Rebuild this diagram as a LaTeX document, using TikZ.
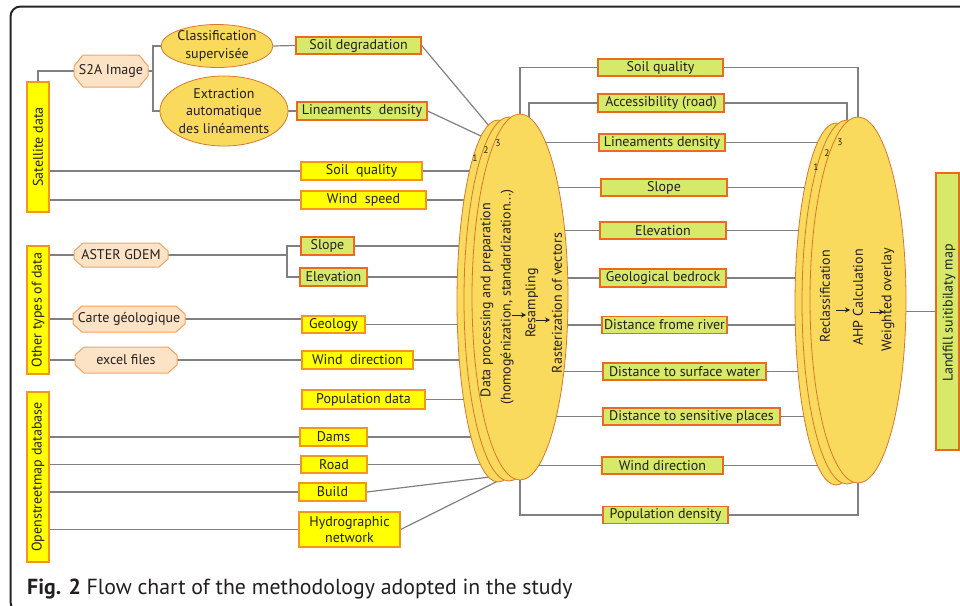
\documentclass[tikz,border=0pt]{standalone}
\usepackage{fontspec}
\setmainfont{PT Sans}
\usetikzlibrary{shapes.geometric,arrows.meta,backgrounds}
\definecolor{yfill}{HTML}{FFFF00}
\definecolor{yline}{HTML}{F7941D}
\definecolor{gfill}{HTML}{D7E968}
\definecolor{gline}{HTML}{EA6A22}
\definecolor{efill}{HTML}{F9DA5C}
\definecolor{eline}{HTML}{D9782D}
\definecolor{ofill}{HTML}{FDE3C6}
\definecolor{oline}{HTML}{F4A261}
\definecolor{cgray}{HTML}{808080}
\definecolor{tcol}{HTML}{231F20}
\newcommand{\octnode}[7]{%
  \path[draw=oline, fill=ofill, line width=1pt]
    ({#2-#4/2},{#3-#5/2+#7}) -- ({#2-#4/2+9},{#3-#5/2}) -- ({#2+#4/2-9},{#3-#5/2}) -- ({#2+#4/2},{#3-#5/2+#7})
    -- ({#2+#4/2},{#3+#5/2-#7}) -- ({#2+#4/2-9},{#3+#5/2}) -- ({#2-#4/2+9},{#3+#5/2}) -- ({#2-#4/2},{#3+#5/2-#7}) -- cycle;
  \node[lbl, inner sep=0pt, minimum width=#4pt, minimum height=#5pt] (#1) at (#2,#3) {#6};}
\begin{document}
\begin{tikzpicture}[x=1pt,y=-1pt,
  lbl/.style={font=\fontsize{14}{17.5}\selectfont, text=tcol},
  ybox/.style={lbl, draw=yline, fill=yfill, line width=1.2pt, inner sep=0pt, align=center},
  gbox/.style={lbl, draw=gline, fill=gfill, line width=1.2pt, inner sep=0pt, align=center},
  ell/.style={ellipse, draw=eline, fill=efill, line width=0.8pt, inner sep=0pt},
  conn/.style={draw=cgray, line width=1.2pt},
  num/.style={font=\fontsize{9.5}{10}\selectfont, text=tcol, inner sep=0pt},
  arr/.style={-{Stealth[length=5pt,width=5pt]}, line width=0.8pt, draw=tcol}]
\useasboundingbox (0,0) rectangle (960,605);

% ---------- left bars ----------
\node[ybox, minimum width=22pt, minimum height=130pt] (satbar) at (38,147) {};
\node[lbl, rotate=90] (sattxt) at (satbar.center) {Satellite data};
\node[ybox, minimum width=22pt, minimum height=128pt] (otherbar) at (38,310) {};
\node[lbl, rotate=90] (othertxt) at (otherbar.center) {Other types of data};
\node[ybox, minimum width=22pt, minimum height=170pt] (osmbar) at (38,477) {};
\node[lbl, rotate=90] (osmtxt) at (osmbar.center) {Openstreetmap database};

% ---------- octagons ----------
\octnode{s2a}{111}{71}{74}{32}{S2A Image}{11}
\octnode{aster}{121}{255}{94}{24}{ASTER GDEM}{8}
\octnode{carte}{129}{319}{112}{26}{Carte géologique}{8}
\octnode{excel}{126}{360}{102}{26}{excel files}{8}

% ---------- small ellipses ----------
\node[ell, lbl, minimum width=111pt, minimum height=43pt, align=center] (classif) at (217,46) {Classification\\supervisée};
\node[ell, lbl, minimum width=125pt, minimum height=70pt, align=center] (extr) at (224,111) {Extraction\\automatique\\des linéaments};

% ---------- left boxes ----------
\node[gbox, minimum width=125pt, minimum height=17pt] (soildeg) at (358.5,45.5) {Soil degradation};
\node[gbox, minimum width=130pt, minimum height=18pt] (linden) at (362,111) {Lineaments\ \ density};
\node[ybox, minimum width=121pt, minimum height=18pt] (soilq) at (361.5,171) {Soil\ \ quality};
\node[ybox, minimum width=125pt, minimum height=18pt] (winds) at (363.5,200) {Wind\ \ speed};
\node[gbox, minimum width=53pt, minimum height=18pt] (slope) at (327.5,246) {Slope};
\node[gbox, minimum width=67pt, minimum height=18pt] (elev) at (333.5,277) {Elevation};
\node[ybox, minimum width=63pt, minimum height=17pt] (geology) at (333.5,324.5) {Geology};
\node[ybox, minimum width=111pt, minimum height=18pt] (windd) at (357.5,360) {Wind\ \ direction};
\node[ybox, minimum width=123pt, minimum height=19pt] (popdata) at (363.5,399.5) {Population data};
\node[ybox, minimum width=67pt, minimum height=18pt] (dams) at (333.5,437) {Dams};
\node[ybox, minimum width=66pt, minimum height=17pt] (road) at (334,464.5) {Road};
\node[ybox, minimum width=67pt, minimum height=18pt] (build) at (332.5,492) {Build};
\node[ybox, minimum width=101pt, minimum height=35pt, font=\fontsize{14}{16.5}\selectfont] (hydro) at (349.5,529.5) {Hydrographic\\network};

% ---------- ellipse stack 1 ----------
\node[ell, minimum width=82pt, minimum height=362pt] (E1c) at (498,301) {};
\node[ell, minimum width=90pt, minimum height=364pt] (E1b) at (509,299) {};
\node[ell, minimum width=96pt, minimum height=366pt] (E1a) at (520,297) {};
\node[num] (n11) at (475,158) {1};
\node[num] (n12) at (486,150) {2};
\node[num] (n13) at (498,143) {3};
\node[lbl, rotate=90] (d1) at (487,300) {Data processing and preparation};
\node[lbl, rotate=90] (d2) at (507,297) {(homogénization, standardization...)};
\node[lbl, rotate=90] (d3) at (532,303) {Resampling};
\node[lbl, rotate=90] (d4) at (557,303) {Rasterization of vectors};
\coordinate (a1s) at (512,315); \coordinate (a1e) at (526,315);
\coordinate (a2s) at (536,320); \coordinate (a2e) at (550,320);
\draw[arr] (a1s) -- (a1e);
\draw[arr] (a2s) -- (a2e);

% ---------- right column boxes ----------
\node[gbox, minimum width=125pt, minimum height=17pt] (soilq2) at (660.5,67.5) {Soil quality};
\node[gbox, minimum width=126pt, minimum height=18pt] (acc) at (661,103) {Accessibility (road)};
\node[gbox, minimum width=126pt, minimum height=17pt] (lin2) at (662,142.5) {Lineaments density};
\node[gbox, minimum width=126pt, minimum height=17pt] (slope2) at (664,187.5) {Slope};
\node[gbox, minimum width=126pt, minimum height=17pt] (elev2) at (663,230.5) {Elevation};
\node[gbox, minimum width=126pt, minimum height=18pt] (geob) at (663,278) {Geological bedrock};
\node[gbox, minimum width=125pt, minimum height=17pt] (driver) at (664.5,325) {Distance frome river};
\node[gbox, minimum width=163pt, minimum height=17pt] (dsurf) at (684.5,371.5) {Distance to surface water};
\node[gbox, minimum width=177pt, minimum height=17pt] (dsens) at (691.5,416.5) {Distance to sensitive places};
\node[gbox, minimum width=121pt, minimum height=17pt] (windd2) at (662.5,465.5) {Wind direction};
\node[gbox, minimum width=125pt, minimum height=17pt] (popd) at (665.5,515) {Population density};

% ---------- ellipse stack 2 ----------
\node[ell, minimum width=82pt, minimum height=362pt] (E2c) at (836,304) {};
\node[ell, minimum width=90pt, minimum height=364pt] (E2b) at (847,302) {};
\node[ell, minimum width=96pt, minimum height=366pt] (E2a) at (858,300) {};
\node[num] (n21) at (816,167) {1};
\node[num] (n22) at (827,153) {2};
\node[num] (n23) at (840,142) {3};
\node[lbl, rotate=90, anchor=east, inner sep=0pt] (r1) at (825,250) {Reclassification};
\node[lbl, rotate=90, anchor=east, inner sep=0pt] (r2) at (858,249) {AHP Calculation};
\node[lbl, rotate=90, anchor=east, inner sep=0pt] (r3) at (888,248) {Weighted overlay};
\coordinate (b1s) at (836,310); \coordinate (b1e) at (850,310);
\coordinate (b2s) at (870,312); \coordinate (b2e) at (884,312);
\draw[arr] (b1s) -- (b1e);
\draw[arr] (b2s) -- (b2e);

% ---------- final box ----------
\node[gbox, minimum width=23pt, minimum height=277pt] (land) at (947.5,311.5) {};
\node[lbl, rotate=90] (landtxt) at (949,313) {Landfill suitibilaty map};

% ---------- caption ----------
\node[anchor=base west, font=\fontsize{21.8}{24}\selectfont, text=tcol, inner sep=0pt] (cap) at (27,594) {\textbf{Fig. 2} Flow chart of the methodology adopted in the study};

% ---------- connectors and frame ----------
\begin{pgfonlayer}{background}
\begin{scope}
\clip (0,0) rectangle (960,605);
\draw[line width=2pt, draw=black!85, rounded corners=10pt] (10.5,6.5) rectangle (990,612);
\end{scope}
\coordinate (sb) at (153,71);
\coordinate (ab) at (287,255);
\coordinate (p1) at (490,127);
\coordinate (p2) at (483,137);
\coordinate (p3) at (490,477);
\coordinate (p4) at (500,480);
\coordinate (t1) at (529,297);
\draw[conn] (satbar.north) |- (s2a.west);
\draw[conn] (s2a.east) -- (sb);
\draw[conn] (classif.west) -| (sb) |- (extr.west);
\draw[conn] (classif.east) -- (soildeg.west);
\draw[conn] (extr.east) -- (linden.west);
\draw[conn] (soildeg.east) -- (p1);
\draw[conn] (linden.east) -- (p2);
\draw[conn] (satbar.east |- soilq.west) -- (soilq.west);
\draw[conn] (satbar.east |- winds.west) -- (winds.west);
\draw[conn] (otherbar.east |- aster.west) -- (aster.west);
\draw[conn] (aster.east) -- (ab);
\draw[conn] (slope.west) -| (ab) |- (elev.west);
\draw[conn] (otherbar.east |- carte.west) -- (carte.west);
\draw[conn] (carte.east) -- (carte.east -| geology.west);
\draw[conn] (otherbar.east |- excel.west) -- (excel.west);
\draw[conn] (excel.east) -- (windd.west);
\foreach \b in {dams,road,build,hydro}
  \draw[conn] (osmbar.east |- \b.west) -- (\b.west);
\foreach \b in {soilq,winds,slope,elev,geology,windd,popdata,dams,road}
  \draw[conn] (\b.east) -- (\b.east -| E1c.center);
\draw[conn] (build.east) -- (p3);
\draw[conn] (hydro.east) -- (p4);
\draw[conn] (E1a.center) |- (soilq2.west);
\draw[conn] (t1) |- (acc.west);
\foreach \b in {lin2,slope2,elev2,geob,driver,dsurf,dsens,windd2}
  \draw[conn] (E1a.center |- \b.west) -- (\b.west);
\draw[conn] (E1a.center) |- (popd.west);
\draw[conn] (soilq2.east) -| (E2a.center);
\draw[conn] (acc.east) -| (E2b.center);
\foreach \b in {lin2,slope2,elev2,geob,driver,dsurf,dsens,windd2}
  \draw[conn] (\b.east) -- (\b.east -| E2c.center);
\draw[conn] (popd.east) -| (E2a.center);
\draw[conn] (E2a.center |- land.west) -- (land.west);
\end{pgfonlayer}
\end{tikzpicture}
\end{document}
